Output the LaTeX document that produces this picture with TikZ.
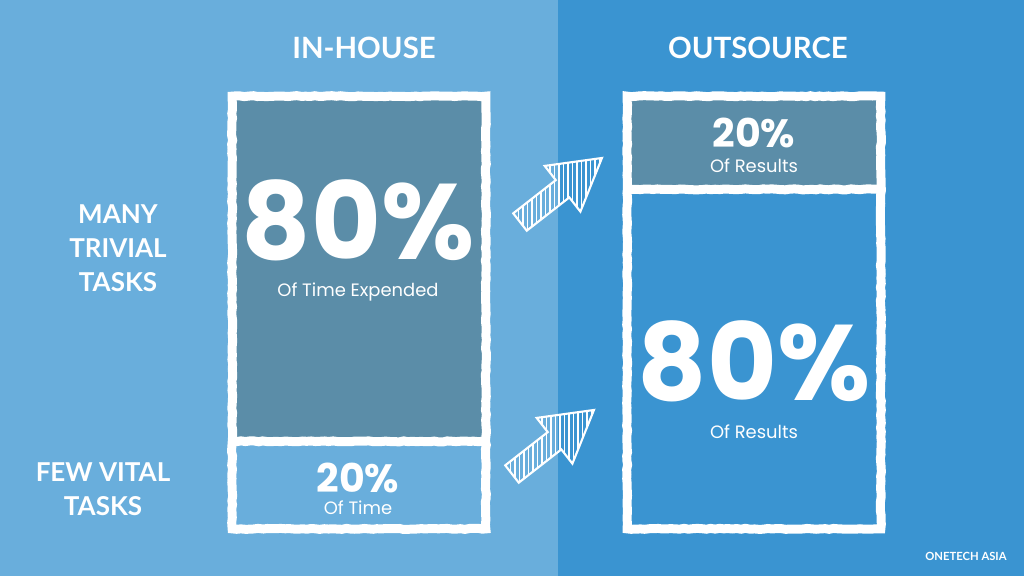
\documentclass[tikz,border=0pt]{standalone}
\usepackage{fontspec}
\setmainfont{Lato}
\newfontfamily\numfont{Poppins}
\usetikzlibrary{positioning,decorations.pathmorphing}
\definecolor{bgleft}{HTML}{69AEDC}
\definecolor{bgright}{HTML}{3A94D1}
\definecolor{celldark}{HTML}{5B8DA8}

\begin{document}
\begin{tikzpicture}[x=0.2mm, y=-0.2mm,
    every node/.style={text=white, inner sep=0pt},
    cell/.style={minimum width=253*0.2mm, draw=none},
    frame/.style={draw=white, line width=9*0.569pt, decorate,
      decoration={random steps, segment length=2.5pt, amplitude=0.3pt}},
    head/.style={font=\bfseries\fontsize{16.7}{19}\selectfont},
    side/.style={font=\bfseries\fontsize{14.8}{19.5}\selectfont, align=center},
    bignum/.style={anchor=base, text depth=0pt, font=\numfont\bfseries\fontsize{61}{61}\selectfont},
    smallnum/.style={anchor=base, text depth=0pt, font=\numfont\bfseries\fontsize{22.5}{23}\selectfont},
    caption/.style={anchor=base, text height=0.72em, text depth=0.2em, font=\numfont\fontsize{10.2}{11}\selectfont},
    hatcharrow/.style={draw=white, line width=1.2pt, line join=miter}]
  \useasboundingbox (0,0) rectangle (1024,576);
  % backgrounds
  \fill[bgleft] (0,0) rectangle (558,576);
  \fill[bgright] (558,0) rectangle (1024,576);
  % in-house cells
  \node[cell, fill=celldark, minimum height=344.5*0.2mm] (ih1) at (359,268.75) {};
  \node[cell, fill=bgleft, minimum height=87.5*0.2mm] (ih2) at (359,484.75) {};
  % outsource cells
  \node[cell, fill=celldark, minimum height=92.5*0.2mm] (os1) at (754,142.75) {};
  \node[cell, fill=bgright, minimum height=339.5*0.2mm] (os2) at (754,358.75) {};
  % white frames
  \draw[frame] (ih1.north west) rectangle (ih2.south east);
  \draw[frame] (ih1.south west) -- (ih1.south east);
  \draw[frame] (os1.north west) rectangle (os2.south east);
  \draw[frame] (os1.south west) -- (os1.south east);
  % headings
  \node[head] (t1) at (364,48) {IN-HOUSE};
  \node[head] (t2) at (758,48) {OUTSOURCE};
  \node[side] (s1) at (118,248) {MANY\\TRIVIAL\\TASKS};
  \node[side] (s2) at (103,489) {FEW VITAL\\TASKS};
  % figures
  \node[bignum] (n1) at (358,259) {80\%};
  \node[caption] (c1) at (358,296) {Of Time Expended};
  \node[smallnum] (n2) at (358,492) {20\%};
  \node[caption] (c2) at (358,514) {Of Time};
  \node[smallnum] (n3) at (754,147) {20\%};
  \node[caption] (c3) at (754,172) {Of Results};
  \node[bignum] (n4) at (754,400) {80\%};
  \node[caption] (c4) at (754,438) {Of Results};
  \node[font=\bfseries\fontsize{6.4}{7}\selectfont] (brand) at (966,556) {ONETECH ASIA};
  % hatched arrows
  \foreach \ax/\ay in {520/222, 512/474}{
    \begin{scope}[shift={(\ax,\ay)}, rotate=38]
      \begin{scope}
        \clip (0,-11) -- (54,-11) -- (54,-29) -- (104,0) -- (54,29) -- (54,11) -- (0,11) -- cycle;
        \begin{scope}[rotate=-38]
          \foreach \hx in {-60,-55.5,...,100}
            \draw[white, line width=0.6pt] (\hx,-90) -- (\hx,90);
        \end{scope}
      \end{scope}
      \draw[hatcharrow] (0,-11) -- (54,-11) -- (54,-29) -- (104,0) -- (54,29) -- (54,11) -- (0,11) -- cycle;
    \end{scope}
  }
\end{tikzpicture}
\end{document}
